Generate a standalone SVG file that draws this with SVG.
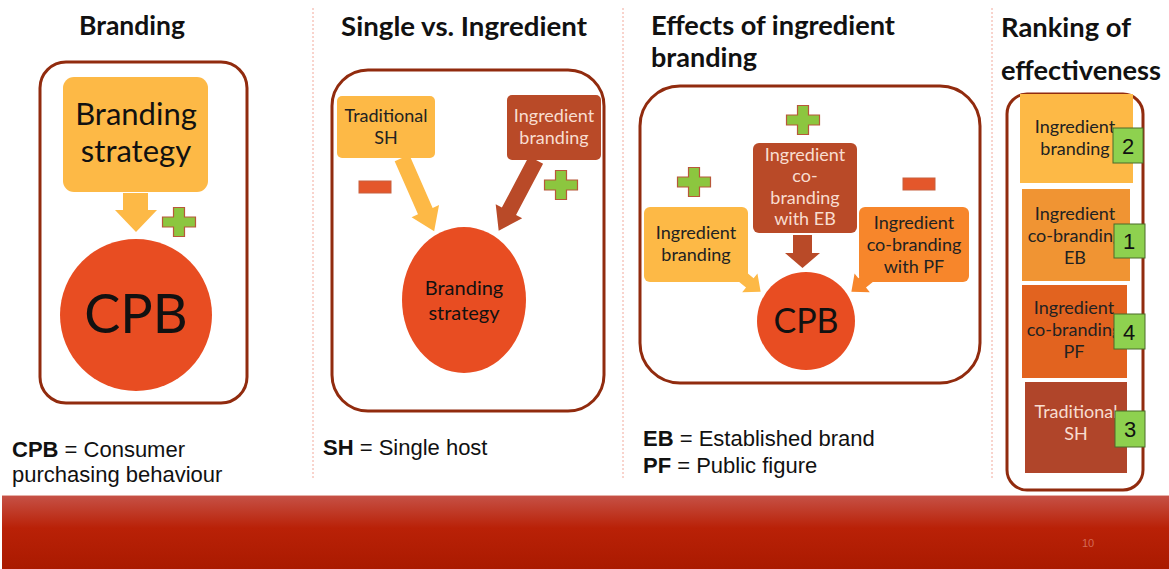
<svg xmlns="http://www.w3.org/2000/svg" width="1169" height="569" viewBox="0 0 1169 569">
<defs>
<linearGradient id="band" x1="0" y1="0" x2="0" y2="1">
<stop offset="0" stop-color="#C65247"/>
<stop offset="0.45" stop-color="#B92107"/>
<stop offset="1" stop-color="#AA1A00"/>
</linearGradient>
<path id="plus" d="M-5.5,-14.5 H5.5 V-5 H16.5 V5 H5.5 V14.5 H-5.5 V5 H-16.5 V-5 H-5.5 Z" fill="#8CC63F" stroke="#B8583A" stroke-width="1.2"/>
<rect id="minus" x="-16" y="-6" width="32" height="12" fill="#E4572B" stroke="#C8603F" stroke-width="1"/>
</defs>
<style>
.frame{fill:#fff;stroke:#912B0E;stroke-width:3}
.title{font-family:Lato,"Open Sans",sans-serif;font-weight:bold;font-size:26px;fill:#111}
.cap{font-family:"Liberation Sans",Arial,sans-serif;font-size:22px;fill:#111}
.capb{font-weight:bold}
.lbl{font-family:Lato,"Open Sans",sans-serif;font-size:18px;fill:#222;text-anchor:middle}
.lw{fill:#F8DDD0}
.sep{stroke:#F2A89A;stroke-width:1;stroke-dasharray:2 2}
.badge{fill:#8ED14F;stroke:#4A6A2A;stroke-width:1}
.num{font-family:"Liberation Sans",Arial,sans-serif;font-size:22px;fill:#111;text-anchor:middle}
</style>

<rect x="0" y="0" width="1169" height="569" fill="#fff"/>

<!-- separators -->
<line class="sep" x1="313" y1="8" x2="313" y2="478"/>
<line class="sep" x1="623" y1="8" x2="623" y2="478"/>
<line class="sep" x1="992" y1="8" x2="992" y2="478"/>

<!-- titles -->
<text class="title" x="79" y="35" textLength="106" lengthAdjust="spacingAndGlyphs">Branding</text>
<text class="title" x="341" y="36" textLength="246" lengthAdjust="spacingAndGlyphs">Single vs. Ingredient</text>
<text class="title" x="651" y="35" textLength="244" lengthAdjust="spacingAndGlyphs">Effects of ingredient</text>
<text class="title" x="651" y="67" textLength="106" lengthAdjust="spacingAndGlyphs">branding</text>
<text class="title" x="1001" y="37" textLength="130" lengthAdjust="spacingAndGlyphs">Ranking of</text>
<text class="title" x="1001" y="80" textLength="160" lengthAdjust="spacingAndGlyphs">effectiveness</text>

<!-- frames -->
<rect class="frame" x="40" y="62" width="207" height="341" rx="26"/>
<rect class="frame" x="332" y="70" width="272" height="341" rx="36"/>
<rect class="frame" x="640" y="86" width="340" height="297" rx="40"/>
<rect class="frame" x="1007" y="94" width="136" height="396" rx="20"/>

<g id="connectors">
<polygon points="123,193 148,193 148,210 157,210 136,232 115,210 123,210" fill="#FDB946"/>
<g transform="translate(402,158) rotate(-23.7)"><polygon points="-8,0 8,0 8,58 15,58 0,80 -15,58 -8,58" fill="#FDB946"/></g>
<g transform="translate(536,160) rotate(27.8)"><polygon points="-8,0 8,0 8,58 15,58 0,80 -15,58 -8,58" fill="#B94A28"/></g>
<polygon points="793,235 812,235 812,253 820,253 802.5,268 785,253 793,253" fill="#B94A28"/>
<g transform="translate(739,274) rotate(-50.6)"><polygon points="-6,0 6,0 6,14 12,14 0,28 -12,14 -6,14" fill="#FDB946"/></g>
<g transform="translate(873,274) rotate(50.6)"><polygon points="-6,0 6,0 6,14 12,14 0,28 -12,14 -6,14" fill="#F7862B"/></g>
</g>

<!-- Panel 1 -->
<g id="p1-strategy">
<rect x="63" y="77" width="145" height="115" rx="11" fill="#FDB946"/>
<text class="lbl" x="136" y="125" style="font-size:31px;fill:#111">Branding</text>
<text class="lbl" x="136" y="162" style="font-size:31px;fill:#111">strategy</text>
</g>
<use href="#plus" x="179" y="222"/>
<g id="p1-cpb">
<circle cx="136" cy="315" r="76" fill="#E84D22"/>
<text class="lbl" x="136" y="333" style="font-size:54px;fill:#111">CPB</text>
</g>
<text class="cap" x="12" y="457"><tspan class="capb">CPB</tspan> = Consumer</text>
<text class="cap" x="12" y="482">purchasing behaviour</text>

<!-- Panel 2 -->
<g id="p2-trad">
<rect x="337" y="96" width="98" height="62" rx="5" fill="#FDB946"/>
<text class="lbl" x="386" y="122">Traditional</text>
<text class="lbl" x="386" y="144">SH</text>
</g>
<g id="p2-ingr">
<rect x="507" y="95" width="94" height="65" rx="5" fill="#B94A28"/>
<text class="lbl lw" x="554" y="122">Ingredient</text>
<text class="lbl lw" x="554" y="144">branding</text>
</g>
<use href="#minus" x="375" y="187"/>
<use href="#plus" x="561" y="185"/>
<g id="p2-strategy">
<ellipse cx="464" cy="300" rx="62" ry="73" fill="#E84D22"/>
<text class="lbl" x="464" y="295" style="font-size:20px;fill:#111">Branding</text>
<text class="lbl" x="464" y="320" style="font-size:20px;fill:#111">strategy</text>
</g>
<text class="cap" x="323" y="455"><tspan class="capb">SH</tspan> = Single host</text>

<!-- Panel 3 -->
<use href="#plus" x="803" y="120"/>
<g id="p3-eb">
<rect x="753" y="143" width="104" height="90" rx="6" fill="#B94A28"/>
<text class="lbl lw" x="805" y="161">Ingredient</text>
<text class="lbl lw" x="805" y="182">co-</text>
<text class="lbl lw" x="805" y="204">branding</text>
<text class="lbl lw" x="805" y="225">with EB</text>
</g>
<use href="#plus" x="694" y="182"/>
<use href="#minus" x="919" y="184"/>
<g id="p3-ib">
<rect x="644" y="207" width="104" height="75" rx="6" fill="#FDB946"/>
<text class="lbl" x="696" y="239">Ingredient</text>
<text class="lbl" x="696" y="261">branding</text>
</g>
<g id="p3-pf">
<rect x="859" y="207" width="110" height="75" rx="6" fill="#F7862B"/>
<text class="lbl" x="914" y="229">Ingredient</text>
<text class="lbl" x="914" y="251">co-branding</text>
<text class="lbl" x="914" y="273">with PF</text>
</g>
<g id="p3-cpb">
<circle cx="806" cy="321" r="49" fill="#E84D22"/>
<text class="lbl" x="806" y="333" style="font-size:34px;fill:#111">CPB</text>
</g>
<text class="cap" x="643" y="446"><tspan class="capb">EB</tspan> = Established brand</text>
<text class="cap" x="643" y="473"><tspan class="capb">PF</tspan> = Public figure</text>

<!-- Panel 4 -->
<g id="r-ib">
<rect x="1020" y="94" width="113" height="89" fill="#FDB946"/>
<text class="lbl" x="1075" y="133">Ingredient</text>
<text class="lbl" x="1075" y="155">branding</text>
<rect class="badge" x="1113" y="128" width="30" height="35"/>
<text class="num" x="1128" y="154">2</text>
</g>
<g id="r-eb">
<rect x="1022" y="189" width="108" height="92" fill="#F09433"/>
<text class="lbl" x="1075" y="220">Ingredient</text>
<text class="lbl" x="1075" y="242">co-branding</text>
<text class="lbl" x="1075" y="264">EB</text>
<rect class="badge" x="1114" y="224" width="31" height="34"/>
<text class="num" x="1129" y="249">1</text>
</g>
<g id="r-pf">
<rect x="1022" y="285" width="105" height="93" fill="#E2631F"/>
<text class="lbl" x="1074" y="314">Ingredient</text>
<text class="lbl" x="1074" y="336">co-branding</text>
<text class="lbl" x="1074" y="358">PF</text>
<rect class="badge" x="1114" y="314" width="31" height="35"/>
<text class="num" x="1129" y="340">4</text>
</g>
<g id="r-sh">
<rect x="1025" y="382" width="102" height="91" fill="#B0452A"/>
<text class="lbl lw" x="1076" y="418">Traditional</text>
<text class="lbl lw" x="1076" y="440">SH</text>
<rect class="badge" x="1115" y="411" width="30" height="36"/>
<text class="num" x="1130" y="437">3</text>
</g>

<!-- bottom band -->
<rect x="2" y="495" width="1167" height="74" fill="url(#band)"/>
<line x1="2" y1="495.5" x2="1169" y2="495.5" stroke="#E6B0A8" stroke-width="1"/>
<text x="1088" y="547" font-family="'Liberation Sans Narrow','Liberation Sans',sans-serif" font-size="11" fill="#D46A55" text-anchor="middle">10</text>
</svg>
